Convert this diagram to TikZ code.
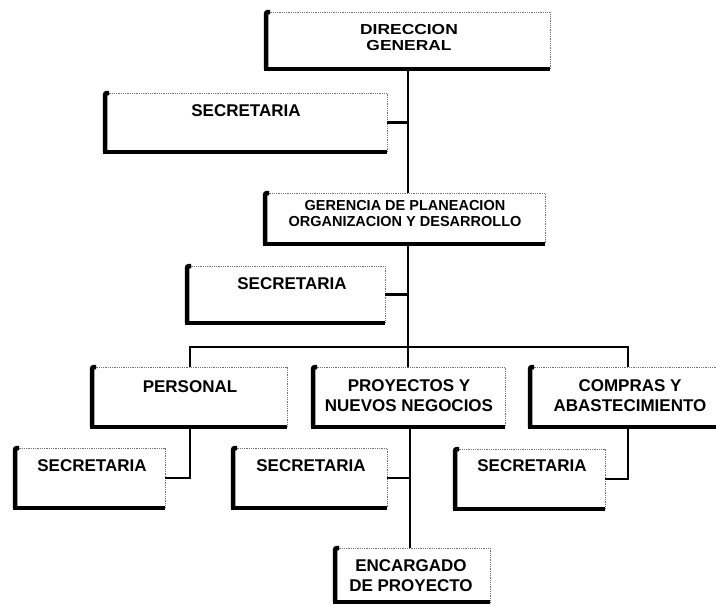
\documentclass[tikz,border=0pt]{standalone}
\usepackage{fontspec}
\setmainfont{Liberation Sans}
\newfontfamily\widesans{Liberation Sans}[FakeStretch=1.2]
\usetikzlibrary{calc}
\begin{document}
\begin{tikzpicture}[x=1pt,y=-1pt,
  orgbox/.style={rectangle, anchor=north west, inner sep=0pt, outer sep=0pt},
  lbl/.style={font=\bfseries\fontsize{17}{20}\selectfont, align=center, inner sep=0pt},
  lblsmall/.style={font=\bfseries\fontsize{14.5}{15}\selectfont, align=center, inner sep=0pt},
  lblwide/.style={font=\widesans\bfseries\fontsize{14.5}{15}\selectfont, align=center, inner sep=0pt},
  faint/.style={line width=0.8pt, black!55, densely dotted},
  heavyleft/.style={line width=4.5pt, line cap=butt, rounded corners=2pt},
  heavybottom/.style={line width=3.2pt, line cap=butt},
  wire/.style={line width=2.2pt, line join=miter}]
\useasboundingbox (0,0) rectangle (716,606);
\clip (0,0) rectangle (716,606);

% ---- boxes (top-left corner, width, height)
\node[orgbox, minimum width=284pt, minimum height=57pt] (dg)   at (266,12)  {};
\node[orgbox, minimum width=282pt, minimum height=59pt] (s1)   at (105,93)  {};
\node[orgbox, minimum width=280pt, minimum height=51pt] (ger)  at (265,193) {};
\node[orgbox, minimum width=198pt, minimum height=57pt] (s2)   at (187,266) {};
\node[orgbox, minimum width=195pt, minimum height=60pt] (pers) at (92,367)  {};
\node[orgbox, minimum width=192pt, minimum height=60pt] (proj) at (313,367) {};
\node[orgbox, minimum width=200pt, minimum height=60pt] (comp) at (530,367) {};
\node[orgbox, minimum width=150pt, minimum height=60pt] (sa)   at (15,448)  {};
\node[orgbox, minimum width=154pt, minimum height=60pt] (sb)   at (233,448) {};
\node[orgbox, minimum width=150pt, minimum height=60pt] (sc)   at (455,449) {};
\node[orgbox, minimum width=155pt, minimum height=54pt] (enc)  at (335,548) {};

% ---- box outlines: faint top/right, heavy left/bottom
\foreach \n in {dg,s1,ger,s2,pers,proj,comp,sa,sb,sc,enc}{
  \draw[faint] (\n.north west) -- (\n.north east) -- (\n.south east);
  \draw[heavyleft] ($(\n.north west)+(4,0)$) -- (\n.north west) -- (\n.south west);
  \draw[heavybottom] ($(\n.south west)+(-2.2,0)$) -- (\n.south east);
}

% ---- labels
\node[lblwide]  (dgt)   at (409,38)  {DIRECCION\\[1pt]GENERAL};
\node[lbl]      (s1t)   at (246,111) {SECRETARIA};
\node[lblsmall] (gert)  at (405,214) {GERENCIA DE PLANEACION\\[1pt]ORGANIZACION Y DESARROLLO};
\node[lbl]      (s2t)   at (292,284) {SECRETARIA};
\node[lbl]      (perst) at (190,387) {PERSONAL};
\node[lbl]      (projt) at (409,396) {PROYECTOS Y\\NUEVOS NEGOCIOS};
\node[lbl]      (compt) at (630,396) {COMPRAS Y\\ABASTECIMIENTO};
\node[lbl]      (sat)   at (92,466)  {SECRETARIA};
\node[lbl]      (sbt)   at (311,466) {SECRETARIA};
\node[lbl]      (sct)   at (532,466) {SECRETARIA};
\node[lbl]      (enct)  at (411,576) {ENCARGADO\\DE PROYECTO};

% ---- connector guides
\coordinate (spine)  at (408,0);
\coordinate (spineb) at (410,0);
\coordinate (bus)    at (0,347);
\coordinate (cdrop)  at (628,0);
\coordinate (pdrop)  at (190,0);

% ---- connectors
\draw[wire] (dg.south -| spine) -- (ger.north -| spine);
\draw[wire] (s1.east) -- (s1.east -| spine);
\draw[wire] (ger.south -| spine) -- (proj.north -| spine);
\draw[wire] (s2.east) -- (s2.east -| spine);
\draw[wire] (pers.north -| pdrop) |- (bus -| cdrop) -- (comp.north -| cdrop);
\draw[wire] (pers.south -| pdrop) |- (sa.east);
\draw[wire] (proj.south -| spineb) -- (enc.north -| spineb);
\draw[wire] (sb.east) -- (sb.east -| spineb);
\draw[wire] (comp.south -| cdrop) |- (sc.east);
\end{tikzpicture}
\end{document}
